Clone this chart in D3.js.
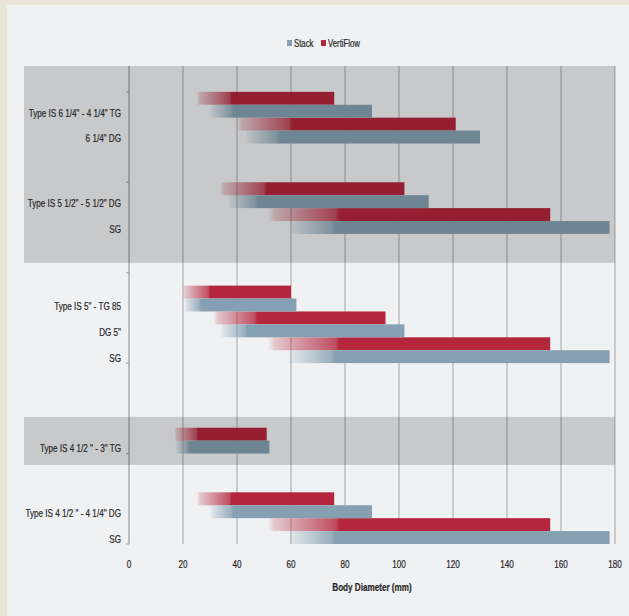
<!DOCTYPE html>
<html>
<head>
<meta charset="utf-8">
<script src="https://cdn.jsdelivr.net/npm/d3@7"></script>
<style>
  html, body { margin: 0; padding: 0; background: #e9e6d8; }
  svg { display: block; }
  text { font-family: "Liberation Sans", Arial, sans-serif; fill: #262626; stroke: #262626; stroke-width: 0.2px; }
</style>
</head>
<body>
<script>
// Body diameter comparison: Stack vs VertiFlow
const categories = [
  'Type IS 6 1/4" - 4 1/4" TG', '6 1/4" DG',
  'Type IS 5 1/2" - 5 1/2" DG', 'SG',
  'Type IS 5" - TG 85', 'DG 5"', 'SG',
  'Type IS 4 1/2 " - 3" TG',
  'Type IS 4 1/2 " - 4 1/4" DG', 'SG'
];
// position of each category along the category axis (blank slots separate the groups)
const slots = [1.5, 2.5, 5, 6, 9, 10, 11, 14.5, 17, 18];
const stack = [90, 130, 111, 178, 62, 102, 178, 52, 90, 178];
const vertiFlow = [76, 121, 102, 156, 60, 95, 156, 51, 76, 156];
const xTicks = [0, 20, 40, 60, 80, 100, 120, 140, 160, 180];
const catTicks = [1, 4.5, 8, 11.5, 15, 18.5];
const shadedGroups = [[0, 7.62], [13.58, 15.44]];
const seriesNames = ["Stack", "VertiFlow"];
const seriesColors = ["#84a0b2", "#b3263b"];

const W = 629, H = 616;
const NARROW = 0.74; // horizontal squeeze for the condensed lettering
const svg = d3.select("body").append("svg").attr("width", W).attr("height", H);

// condensed text helper
function label(parent, tx, ty, str, opts = {}) {
  return parent.append("text")
    .attr("transform", `translate(${tx},${ty}) scale(${NARROW},1)`)
    .attr("dy", "0.35em")
    .attr("text-anchor", opts.anchor || "middle")
    .attr("font-size", opts.size || 11)
    .attr("font-weight", opts.weight || "normal")
    .text(str);
}

// panel
svg.append("rect").attr("x", 7).attr("y", 5).attr("width", W - 7).attr("height", H - 5).attr("fill", "#f0f1f3");

const x = d3.scaleLinear().domain([0, 180]).range([129, 615]);
const y = d3.scaleLinear().domain([0, 18.5]).range([66, 544]);
const unit = y(1) - y(0);
const barH = unit * 0.5;

// gradients: each bar fades in from transparent over its first part
const defs = svg.append("defs");
const gradStops = [[0.33, 0.43], [0.33, 0.5]];
seriesColors.forEach((c, i) => {
  const [a, b] = gradStops[i];
  const g = defs.append("linearGradient").attr("id", "grad" + i)
    .attr("x1", 0).attr("x2", 1).attr("y1", 0).attr("y2", 0);
  [[0, 0], [a, 0], [a + 0.015, 0.2], [b - 0.01, 0.8], [b, 1], [1, 1]].forEach(([o, op]) =>
    g.append("stop").attr("offset", o).attr("stop-color", c).attr("stop-opacity", op));
});

// vertical gridlines
svg.append("g").selectAll("line").data(xTicks).join("line")
  .attr("x1", d => x(d)).attr("x2", d => x(d))
  .attr("y1", y(0)).attr("y2", y(18.5))
  .attr("stroke", d => d === 0 ? "#9a9a9a" : "#b2b2b2").attr("stroke-width", 1.2);

// category axis ticks
svg.append("g").selectAll("line").data(catTicks).join("line")
  .attr("x1", x(0) - 3).attr("x2", x(0))
  .attr("y1", d => y(d)).attr("y2", d => y(d))
  .attr("stroke", "#9a9a9a").attr("stroke-width", 1);

// bars: VertiFlow on top, Stack below
const rows = categories.map((c, i) => ({ c, slot: slots[i], s: stack[i], v: vertiFlow[i] }));
const barG = svg.append("g");
barG.selectAll("rect.v").data(rows).join("rect").attr("class", "v")
  .attr("x", x(0)).attr("y", d => y(d.slot) - barH)
  .attr("width", d => x(d.v) - x(0)).attr("height", barH)
  .attr("fill", "url(#grad1)");
barG.selectAll("rect.s").data(rows).join("rect").attr("class", "s")
  .attr("x", x(0)).attr("y", d => y(d.slot))
  .attr("width", d => x(d.s) - x(0)).attr("height", barH)
  .attr("fill", "url(#grad0)");

// shaded group bands
svg.append("g").selectAll("rect").data(shadedGroups).join("rect")
  .attr("x", 24).attr("width", x(180) - 24)
  .attr("y", d => y(d[0])).attr("height", d => y(d[1]) - y(d[0]))
  .attr("fill", "#000").attr("fill-opacity", 0.165);

// category labels
const catG = svg.append("g");
rows.forEach(d => label(catG, 121, y(d.slot) + barH / 2 + 1.5, d.c, { anchor: "end" }));

// x tick labels
const tickG = svg.append("g");
xTicks.forEach(d => label(tickG, x(d), 564, d));

// axis title
label(svg, (x(0) + x(180)) / 2, 587, "Body Diameter (mm)", { weight: "bold" });

// legend
const legend = svg.append("g");
const legX = [287, 321];
seriesNames.forEach((n, i) => {
  legend.append("rect").attr("x", legX[i]).attr("y", 40).attr("width", 5).attr("height", 6)
    .attr("fill", seriesColors[i]);
  label(legend, legX[i] + 7, 43, n, { anchor: "start", size: 10.5 });
});
</script>
</body>
</html>
